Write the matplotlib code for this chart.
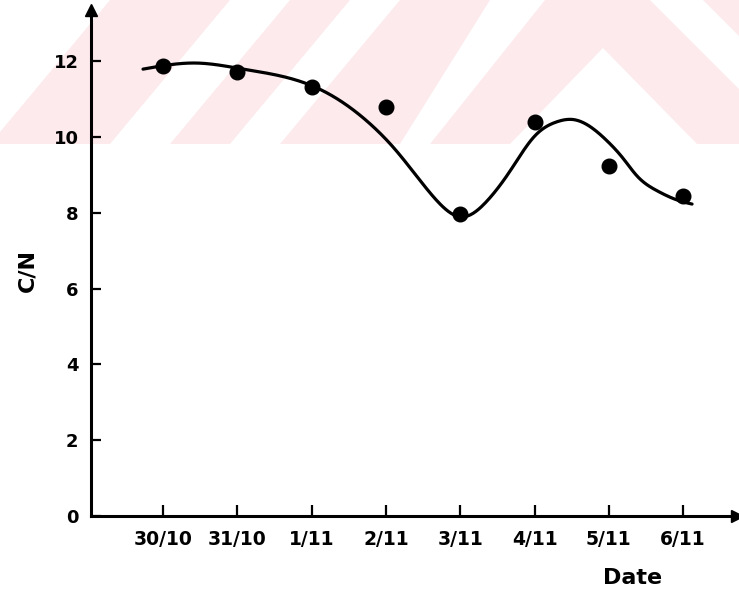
import numpy as np
import matplotlib
matplotlib.use("Agg")
import matplotlib.pyplot as plt
from matplotlib.patches import Polygon, Rectangle

# ---- data ----
dates = ['30/10', '31/10', '1/11', '2/11', '3/11', '4/11', '5/11', '6/11']
cn_values = [11.87, 11.71, 11.32, 10.79, 7.96, 10.39, 9.23, 8.43]
# hand-drawn smooth curve (date index, C/N)
curve_x = [-0.27, 0.46, 1.05, 2.03, 2.79, 3.12, 3.46, 3.69, 4.02, 4.36,
           4.67, 5.00, 5.30, 5.52, 5.98, 6.19, 6.38, 6.65, 6.96, 7.12]
curve_y = [11.79, 11.95, 11.80, 11.33, 10.34, 9.68, 8.85, 8.31, 7.89, 8.31,
           9.10, 10.02, 10.40, 10.46, 9.89, 9.44, 8.97, 8.58, 8.31, 8.23]
y_ticks = [0, 2, 4, 6, 8, 10, 12]


def natural_spline(x, y, xs):
    x = np.asarray(x, float); y = np.asarray(y, float)
    n = len(x)
    h = np.diff(x)
    A = np.zeros((n, n)); b = np.zeros(n)
    A[0, 0] = 1; A[-1, -1] = 1
    for i in range(1, n - 1):
        A[i, i - 1] = h[i - 1]
        A[i, i] = 2 * (h[i - 1] + h[i])
        A[i, i + 1] = h[i]
        b[i] = 3 * ((y[i + 1] - y[i]) / h[i] - (y[i] - y[i - 1]) / h[i - 1])
    c = np.linalg.solve(A, b)
    bb = (y[1:] - y[:-1]) / h - h * (2 * c[:-1] + c[1:]) / 3
    d = (c[1:] - c[:-1]) / (3 * h)
    idx = np.clip(np.searchsorted(x, xs) - 1, 0, n - 2)
    dx = xs - x[idx]
    return y[idx] + bb[idx] * dx + c[idx] * dx ** 2 + d[idx] * dx ** 3


W, H = 739, 593
fig = plt.figure(figsize=(W / 100, H / 100), dpi=100)

# ---- background watermark (decorative) ----
bg = fig.add_axes([0, 0, 1, 1], zorder=-5)
bg.set_xlim(0, W); bg.set_ylim(H, 0); bg.axis('off')
pink = '#fdeaed'
bg.add_patch(Rectangle((0, 0), W, 144, color=pink, lw=0))
whites = [
    [(0, 0), (110, 0), (-10, 144), (0, 144)],
    [(230, 0), (290, 0), (170, 144), (110, 144)],
    [(350, 0), (400, 0), (280, 144), (230, 144)],
    [(490, 0), (545, 0), (430, 144), (400, 144)],
    [(603, 48), (510, 144), (697, 144)],
    [(650, 0), (703, 0), (739, 36), (739, 89)],
]
for poly in whites:
    bg.add_patch(Polygon(poly, closed=True, color='white', lw=0))

# ---- main axes ----
ax = fig.add_axes([91 / W, (H - 516) / H, (737 - 91) / W, (516 - 10) / H])
ax.patch.set_alpha(0)
xlim = (-0.97, 7.725)
ylim = (0, 13.35)
ax.set_xlim(*xlim); ax.set_ylim(*ylim)

for s in ['top', 'right']:
    ax.spines[s].set_visible(False)
for s in ['left', 'bottom']:
    ax.spines[s].set_linewidth(2.2)
    ax.spines[s].set_color('black')

# arrow heads
ax.plot([xlim[0]], [ylim[1]], marker='^', color='black', markersize=9,
        clip_on=False)
ax.plot([xlim[1]], [0], marker='>', color='black', markersize=9,
        clip_on=False)

xs = np.linspace(curve_x[0], curve_x[-1], 400)
ax.plot(xs, natural_spline(curve_x, curve_y, xs), color='black', lw=2.3,
        solid_capstyle='round')
ax.plot(range(len(dates)), cn_values, 'o', color='black', markersize=10.5)

ax.set_xticks(range(len(dates)))
ax.set_xticklabels(dates)
ax.set_yticks(y_ticks)
ax.set_yticklabels([str(v) for v in y_ticks])
ax.tick_params(axis='x', direction='in', length=8, width=1.6, pad=10,
               labelsize=13.5)
ax.tick_params(axis='y', direction='in', length=7, width=1.6, pad=9,
               labelsize=13)
for lab in ax.get_xticklabels() + ax.get_yticklabels():
    lab.set_fontweight('bold')

ax.set_ylabel('C/N', fontsize=16, fontweight='bold', va='center')
ax.yaxis.set_label_coords(-0.099, 0.486)
ax.set_xlabel('Date', fontsize=16, fontweight='bold', va='center')
ax.xaxis.set_label_coords(0.839, -0.1225)

fig.savefig('out.png', dpi=100)
